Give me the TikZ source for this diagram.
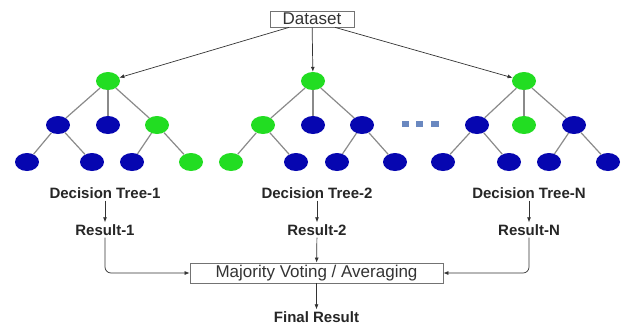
\documentclass[tikz,border=0pt]{standalone}
\usepackage{fontspec}
\setmainfont{Liberation Sans}
\usetikzlibrary{arrows.meta,shapes.geometric}
\definecolor{treegreen}{HTML}{22DD22}
\definecolor{treeblue}{HTML}{0606B0}
\definecolor{dotblue}{HTML}{6A88C0}
\definecolor{edgegray}{HTML}{8A8A8A}
\definecolor{linegray}{HTML}{333333}

\begin{document}
\begin{tikzpicture}[
  x=1pt, y=-1pt,
  >={Latex[length=5pt,width=4pt]},
  leaf/.style={
    ellipse,
    inner sep=0pt,
    minimum width=24pt,
    minimum height=18pt
  },
  gnode/.style={leaf,fill=treegreen},
  bnode/.style={leaf,fill=treeblue},
  edge/.style={edgegray,line width=1.2pt},
  conn/.style={->,linegray,line width=0.7pt},
  lbl/.style={
    font=\fontsize{15}{18}\selectfont\bfseries,
    text=black!85,
    inner sep=2pt
  },
  box/.style={
    draw=black!55,
    line width=0.8pt,
    inner sep=0pt,
    text=black!80,
    font=\fontsize{17}{20}\selectfont
  }
]
  \useasboundingbox (0,0) rectangle (626,325);

  % input
  \node[box,minimum width=84pt,minimum height=16pt] (data) at (312,19) {Dataset};

  % tree 1
  \node[gnode] (t1) at (108,81) {};
  \node[bnode] (t1a) at (58,125) {};
  \node[bnode] (t1b) at (108,125) {};
  \node[gnode] (t1c) at (157,125) {};
  \node[bnode] (t1aa) at (27,162) {};
  \node[bnode] (t1ab) at (92,162) {};
  \node[bnode] (t1ca) at (132,162) {};
  \node[gnode] (t1cb) at (191,162) {};

  % tree 2
  \node[gnode] (t2) at (313,81) {};
  \node[gnode] (t2a) at (263,125) {};
  \node[bnode] (t2b) at (313,125) {};
  \node[bnode] (t2c) at (362,125) {};
  \node[gnode] (t2aa) at (231,162) {};
  \node[bnode] (t2ab) at (296,162) {};
  \node[bnode] (t2ca) at (337,162) {};
  \node[bnode] (t2cb) at (395,162) {};

  % tree N
  \node[gnode] (tn) at (524,81) {};
  \node[bnode] (tna) at (477,125) {};
  \node[gnode] (tnb) at (524,125) {};
  \node[bnode] (tnc) at (574,125) {};
  \node[bnode] (tnaa) at (443,162) {};
  \node[bnode] (tnab) at (509,162) {};
  \node[bnode] (tnca) at (549,162) {};
  \node[bnode] (tncb) at (608,162) {};

  \foreach \p/\c in {t1/t1a,t1/t1b,t1/t1c,t1a/t1aa,t1a/t1ab,t1c/t1ca,t1c/t1cb,
                     t2/t2a,t2/t2b,t2/t2c,t2a/t2aa,t2a/t2ab,t2c/t2ca,t2c/t2cb,
                     tn/tna,tn/tnb,tn/tnc,tna/tnaa,tna/tnab,tnc/tnca,tnc/tncb}
    \draw[edge] (\p) -- (\c);

  % dots between tree 2 and tree N
  \foreach \i/\x in {1/405.5,2/419.5,3/435}
    \node[fill=dotblue,inner sep=0pt,minimum width=7.5pt,minimum height=6pt] (dot\i) at (\x,124) {};

  \draw[conn] (data.200) -- (t1);
  \draw[conn] (data) -- (t2);
  \draw[conn] (data.340) -- (tn);

  % labels and results
  \node[lbl] (dt1) at (105,193) {Decision Tree-1};
  \node[lbl] (dt2) at (317,193) {Decision Tree-2};
  \node[lbl] (dtn) at (529,193) {Decision Tree-N};
  \node[lbl] (res1) at (105,230) {Result-1};
  \node[lbl] (res2) at (317,230) {Result-2};
  \node[lbl] (resn) at (529,230) {Result-N};

  \node[box,minimum width=253pt,minimum height=20pt] (vote) at (316.5,273) {Majority Voting / Averaging};
  \node[lbl] (final) at (316.5,317) {Final Result};

  \draw[conn] (dt1) -- (res1);
  \draw[conn] (dt2) -- (res2);
  \draw[conn] (dtn) -- (resn);
  \draw[conn,rounded corners=6pt] (res1) |- (vote);
  \draw[conn] (res2) -- (vote);
  \draw[conn,rounded corners=6pt] (resn) |- (vote);
  \draw[conn] (vote) -- (final);
\end{tikzpicture}
\end{document}
